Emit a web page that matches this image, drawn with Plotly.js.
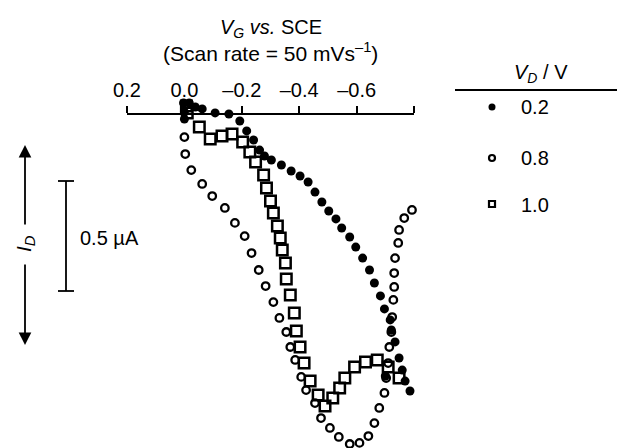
<!DOCTYPE html>
<html>
<head>
<meta charset="utf-8">
<script src="https://cdn.plot.ly/plotly-3.0.1.min.js"></script>
<style>html,body{margin:0;padding:0;background:#fff;}#chart{width:617px;height:448px;}</style>
</head>
<body>
<div id="chart"></div>
<script>
// V_G (V vs. SCE) and I_D (µA, relative to the axis line)
const vgFilled02 = [0.003,0,0,-0.017,-0.038,-0.062,-0.107,-0.155,-0.193,-0.217,-0.241,-0.262,-0.279,-0.303,-0.338,-0.372,-0.403,-0.431,-0.455,-0.479,-0.503,-0.528,-0.548,-0.576,-0.597,-0.621,-0.645,-0.662,-0.683,-0.697,-0.717,-0.721,-0.734,-0.748,-0.759,-0.700,-0.769,-0.786,-0.803];
const idFilled02 = [0.050,0.009,-0.023,0.050,0.032,0.023,0.005,0,-0.032,-0.077,-0.118,-0.164,-0.191,-0.209,-0.232,-0.259,-0.282,-0.309,-0.355,-0.400,-0.441,-0.477,-0.518,-0.559,-0.605,-0.655,-0.709,-0.768,-0.827,-0.886,-0.936,-0.982,-1.036,-1.109,-1.164,-1.191,-1.214,-1.259,-1.305];

const vgOpen08 = [0,-0.003,-0.024,-0.062,-0.097,-0.141,-0.176,-0.210,-0.234,-0.259,-0.283,-0.310,-0.331,-0.355,-0.369,-0.386,-0.407,-0.424,-0.455,-0.476,-0.507,-0.538,-0.576,-0.610,-0.641,-0.662,-0.679,-0.697,-0.703,-0.710,-0.714,-0.721,-0.724,-0.728,-0.731,-0.731,-0.734,-0.745,-0.748,-0.766,-0.793];
const idOpen08 = [-0.105,-0.182,-0.255,-0.318,-0.373,-0.427,-0.495,-0.555,-0.632,-0.709,-0.782,-0.855,-0.927,-0.991,-1.059,-1.118,-1.195,-1.255,-1.314,-1.382,-1.427,-1.468,-1.500,-1.495,-1.464,-1.405,-1.336,-1.268,-1.200,-1.132,-1.059,-0.991,-0.923,-0.845,-0.786,-0.723,-0.655,-0.586,-0.527,-0.473,-0.436];

const vgSquare10 = [-0.007,-0.010,-0.052,-0.090,-0.131,-0.166,-0.203,-0.228,-0.248,-0.276,-0.286,-0.300,-0.310,-0.324,-0.334,-0.341,-0.352,-0.355,-0.369,-0.383,-0.390,-0.403,-0.417,-0.438,-0.466,-0.490,-0.517,-0.541,-0.559,-0.593,-0.631,-0.672,-0.710,-0.748];
const idSquare10 = [0.036,0.005,-0.059,-0.114,-0.100,-0.091,-0.127,-0.173,-0.218,-0.277,-0.336,-0.395,-0.450,-0.509,-0.564,-0.618,-0.677,-0.750,-0.823,-0.905,-0.986,-1.059,-1.132,-1.214,-1.277,-1.327,-1.291,-1.245,-1.200,-1.150,-1.127,-1.118,-1.150,-1.200];

const tickVals = [0.2,0,-0.2,-0.4,-0.6,-0.8];
const tickText = ["0.2","0.0","–0.2","–0.4","–0.6",""];
const legendLabels = ["0.2","0.8","1.0"];

const FONT = '"Liberation Sans", Arial, Helvetica, sans-serif';
const W = 617, H = 448;

const traces = [
  {x: vgFilled02, y: idFilled02, type:'scatter', mode:'markers', cliponaxis:false,
   marker:{symbol:'circle', size:9, color:'#000'}, xaxis:'x', yaxis:'y', hoverinfo:'skip'},
  {x: vgOpen08, y: idOpen08, type:'scatter', mode:'markers', cliponaxis:false,
   marker:{symbol:'circle-open', size:7.5, color:'#000', line:{width:2.3, color:'#000'}}, xaxis:'x', yaxis:'y', hoverinfo:'skip'},
  {x: vgSquare10, y: idSquare10, type:'scatter', mode:'markers', cliponaxis:false,
   marker:{symbol:'square-open', size:10.5, color:'#000', line:{width:2.5, color:'#000'}}, xaxis:'x', yaxis:'y', hoverinfo:'skip'},
  // legend keys (pixel-space overlay axes)
  {x:[492], y:[107], type:'scatter', mode:'markers', cliponaxis:false, xaxis:'x2', yaxis:'y2',
   marker:{symbol:'circle', size:7, color:'#000'}, hoverinfo:'skip'},
  {x:[492], y:[158], type:'scatter', mode:'markers', cliponaxis:false, xaxis:'x2', yaxis:'y2',
   marker:{symbol:'circle-open', size:6, color:'#000', line:{width:2.2, color:'#000'}}, hoverinfo:'skip'},
  {x:[492], y:[204], type:'scatter', mode:'markers', cliponaxis:false, xaxis:'x2', yaxis:'y2',
   marker:{symbol:'square-open', size:6, color:'#000', line:{width:2.2, color:'#000'}}, hoverinfo:'skip'}
];

const plotTop = 60;
const axisY = 114;
const pxPerUA = 220;

const layout = {
  width: W, height: H,
  margin:{l:0,r:0,t:0,b:0,pad:0},
  paper_bgcolor:'#fff', plot_bgcolor:'rgba(0,0,0,0)',
  showlegend:false,
  font:{family:FONT, color:'#000', size:20},
  xaxis:{
    domain:[127/W, 414/W], range:[0.2,-0.8], side:'top', anchor:'free', position:(H-axisY)/H,
    showline:true, linecolor:'#000', linewidth:2, showgrid:false, zeroline:false,
    ticks:'outside', ticklen:7, tickwidth:1.8, tickcolor:'#000',
    tickvals:tickVals, ticktext:tickText, tickfont:{family:FONT, size:20, color:'#000'},
    ticklabelstandoff:1, fixedrange:true
  },
  yaxis:{
    domain:[0,(H-plotTop)/H], range:[(axisY-H)/pxPerUA, (axisY-plotTop)/pxPerUA],
    visible:false, showgrid:false, zeroline:false, fixedrange:true
  },
  xaxis2:{domain:[0,1], range:[0,W], visible:false, anchor:'y2', fixedrange:true},
  yaxis2:{domain:[0,1], range:[H,0], visible:false, anchor:'x2', fixedrange:true},
  shapes:[
    // legend rule
    {type:'line', xref:'x2', yref:'y2', x0:455, x1:617, y0:90, y1:90, line:{color:'#000', width:2}},
    // scale bar
    {type:'line', xref:'x2', yref:'y2', x0:66, x1:66, y0:181, y1:291, line:{color:'#000', width:1.8}},
    {type:'line', xref:'x2', yref:'y2', x0:58, x1:74, y0:181, y1:181, line:{color:'#000', width:1.8}},
    {type:'line', xref:'x2', yref:'y2', x0:58, x1:74, y0:291, y1:291, line:{color:'#000', width:1.8}}
  ],
  annotations:[
    {xref:'x2', yref:'y2', x:271, y:28, text:'<i>V</i><sub><i>G</i></sub> <i>vs.</i> SCE', showarrow:false,
     font:{family:FONT, size:20, color:'#000'}, xanchor:'center', yanchor:'middle'},
    {xref:'x2', yref:'y2', x:270, y:52, text:'(Scan rate = 50 mVs<sup>–1</sup>)', showarrow:false,
     font:{family:FONT, size:21, color:'#000'}, xanchor:'center', yanchor:'middle'},
    {xref:'x2', yref:'y2', x:541, y:73, text:'<i>V</i><sub><i>D</i></sub> / V', showarrow:false,
     font:{family:FONT, size:20, color:'#000'}, xanchor:'center', yanchor:'middle'},
    {xref:'x2', yref:'y2', x:519, y:107, text:legendLabels[0], showarrow:false,
     font:{family:FONT, size:20, color:'#000'}, xanchor:'left', yanchor:'middle'},
    {xref:'x2', yref:'y2', x:519, y:158, text:legendLabels[1], showarrow:false,
     font:{family:FONT, size:20, color:'#000'}, xanchor:'left', yanchor:'middle'},
    {xref:'x2', yref:'y2', x:519, y:205, text:legendLabels[2], showarrow:false,
     font:{family:FONT, size:20, color:'#000'}, xanchor:'left', yanchor:'middle'},
    {xref:'x2', yref:'y2', x:78, y:238, text:'0.5 µA', showarrow:false,
     font:{family:FONT, size:20, color:'#000'}, xanchor:'left', yanchor:'middle'},
    {xref:'x2', yref:'y2', x:25, y:244, text:'<i>I</i><sub><i>D</i></sub>', showarrow:false, textangle:-90,
     font:{family:FONT, size:21, color:'#000'}, xanchor:'center', yanchor:'middle'},
    // arrows of the I_D direction indicator
    {xref:'x2', yref:'y2', axref:'x2', ayref:'y2', x:25, y:145, ax:25, ay:226, text:'', showarrow:true,
     arrowhead:2, arrowsize:1.4, arrowwidth:1.8, arrowcolor:'#000'},
    {xref:'x2', yref:'y2', axref:'x2', ayref:'y2', x:25, y:345, ax:25, ay:263, text:'', showarrow:true,
     arrowhead:2, arrowsize:1.4, arrowwidth:1.8, arrowcolor:'#000'}
  ]
};

Plotly.newPlot('chart', traces, layout, {staticPlot:true, displayModeBar:false});
</script>
</body>
</html>
